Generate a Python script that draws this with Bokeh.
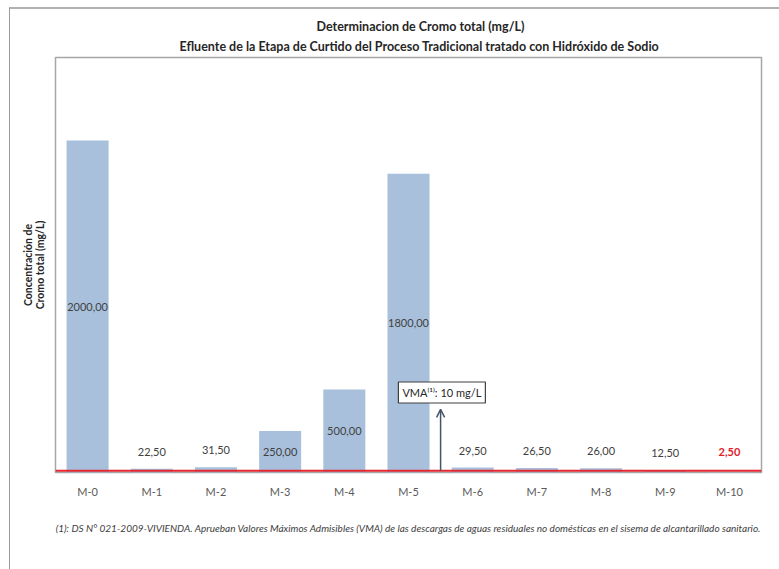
from bokeh.plotting import figure
from bokeh.models import (Range1d, Label, Arrow, OpenHead, Span, FixedTicker, ColumnDataSource, Title,
                          InlineStyleSheet)
from bokeh.core.properties import value
from bokeh.embed import file_html
from bokeh.resources import INLINE

categories = ["M-0", "M-1", "M-2", "M-3", "M-4", "M-5", "M-6", "M-7", "M-8", "M-9", "M-10"]
values = [2000.0, 22.5, 31.5, 250.0, 500.0, 1800.0, 29.5, 26.5, 26.0, 12.5, 2.5]
vma = 10
title_line1 = "Determinacion de Cromo total (mg/L)"
title_line2 = "Efluente de la Etapa de Curtido del Proceso Tradicional tratado con Hidróxido de Sodio"
ylabel_lines = ["Concentración de", "Cromo total (mg/L)"]
footnote = ("(1): DS N° 021-2009-VIVIENDA. Aprueban Valores Máximos Admisibles (VMA) de las descargas de "
            "aguas residuales no domésticas en el sisema de alcantarillado sanitario.")

FONT = "Lato"

def fmt(v):
    return f"{v:.2f}".replace(".", ",")

xs = [i + 0.5 for i in range(len(categories))]

W, H = 779, 569
L, R, T, B = 55, 18, 57, 97

page_css = InlineStyleSheet(css="""
:host::after {
  content: "";
  position: absolute;
  left: 9px; top: 7px; right: -4px; bottom: -4px;
  border-left: 1.5px solid #9a9a9a;
  border-top: 2px solid #b0b0b0;
  pointer-events: none;
}
""")

p = figure(width=W, height=H, x_range=Range1d(0, len(categories)), y_range=Range1d(0, 2500),
           output_backend="svg", toolbar_location=None,
           min_border_left=L, min_border_right=R, min_border_top=T, min_border_bottom=B,
           stylesheets=[page_css])
p.xgrid.visible = False
p.ygrid.visible = False
p.outline_line_color = "#a6a6a6"
p.outline_line_width = 1.5
p.background_fill_color = "white"
p.border_fill_color = "white"

# titles (p.title is the outer line, the added Title sits next to the frame)
p.title.text = title_line1
p.title.align = "left"
p.title.offset = 261
p.title.text_font = FONT
p.title.text_font_size = "12.5px"
p.title.text_font_style = "bold"
p.title.text_color = "#262626"
p.title.standoff = 0
p.add_layout(Title(text=title_line2, align="left", offset=124, text_font=FONT, text_font_size="12.5px",
                   text_font_style="bold", text_color="#262626", standoff=7), "above")

# x axis: categories + footnote as axis label
ax = p.xaxis[0]
ax.ticker = FixedTicker(ticks=xs)
ax.major_label_overrides = {x: c for x, c in zip(xs, categories)}
ax.axis_line_color = None
ax.major_tick_line_color = None
ax.minor_tick_line_color = None
ax.major_label_standoff = 6
ax.major_label_text_font = FONT
ax.major_label_text_font_size = "11px"
ax.major_label_text_color = "#595959"
ax.axis_label = footnote
ax.axis_label_standoff = 21
ax.axis_label_text_font = FONT
ax.axis_label_text_font_size = "10px"
ax.axis_label_text_font_style = "italic"
ax.axis_label_text_color = "#404040"

# y axis: only the two-line label
ay = p.yaxis[0]
ay.ticker = FixedTicker(ticks=[])
ay.axis_line_color = None
ay.major_tick_line_color = None
ay.minor_tick_line_color = None
ay.major_label_standoff = 0
ay.axis_label = "\n".join(ylabel_lines)
ay.axis_label_standoff = 10
ay.axis_label_text_font = FONT
ay.axis_label_text_font_size = "10.5px"
ay.axis_label_text_font_style = "bold"
ay.axis_label_text_line_height = 1.0
ay.axis_label_text_color = "#262626"

src = ColumnDataSource(dict(x=xs, top=values))
p.vbar(x="x", top="top", width=0.655, source=src, fill_color="#a9c0dc", line_color=None)

# value labels: inside (centre) for tall bars, above for short bars; red below VMA
normal_x, normal_y, normal_off, normal_t = [], [], [], []
low_x, low_y, low_off, low_t = [], [], [], []
for x, v in zip(xs, values):
    big = v >= 200
    y = v / 2 if big else v
    off = 0 if big else -17
    if v < vma:
        low_x.append(x); low_y.append(y); low_off.append(off - 3); low_t.append(fmt(v))
    else:
        normal_x.append(x); normal_y.append(y); normal_off.append(off); normal_t.append(fmt(v))
s1 = ColumnDataSource(dict(x=normal_x, y=normal_y, off=normal_off, t=normal_t))
p.text(x="x", y="y", y_offset="off", text="t", source=s1, text_align="center", text_baseline="middle",
       text_font=value(FONT), text_font_size="11px", text_color="#404040")
s2 = ColumnDataSource(dict(x=low_x, y=low_y, off=low_off, t=low_t))
p.text(x="x", y="y", y_offset="off", text="t", source=s2, text_align="center", text_baseline="middle",
       text_font=value(FONT), text_font_size="11px", text_font_style="bold", text_color="#e0202a")

# VMA line
p.add_layout(Span(location=vma, dimension="width", line_color="#e3262f", line_width=2))

# arrow + VMA box
p.add_layout(Arrow(x_start=6.0, y_start=vma, x_end=6.0, y_end=380,
                   line_color="#44546a", line_width=1.5,
                   end=OpenHead(size=8, line_color="#44546a", line_width=1.5)))
p.add_layout(Label(x=6.02, y=482, text=f"VMA⁽¹⁾: {vma} mg/L", text_align="center", text_baseline="middle",
                   text_font=FONT, text_font_size="11px", text_color="#262626",
                   background_fill_color="white", border_line_color="#404040", border_line_width=1.2,
                   padding=4))

open("out.html", "w").write(file_html(p, INLINE))
